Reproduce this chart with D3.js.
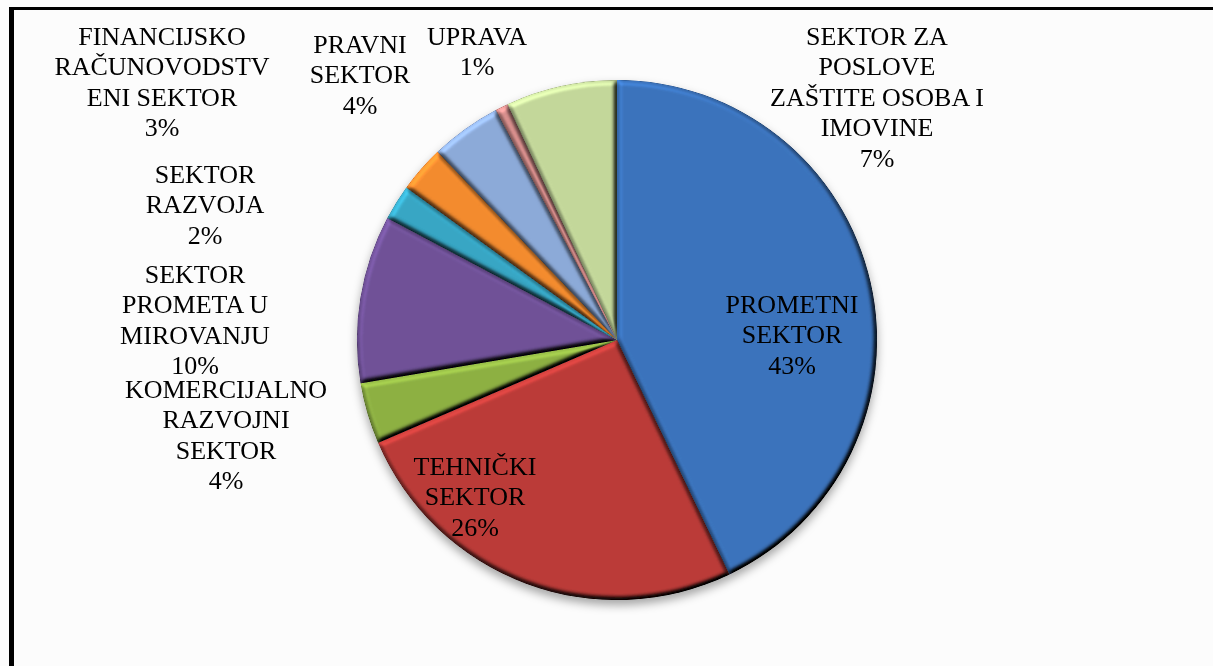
<!DOCTYPE html>
<html>
<head>
<meta charset="utf-8">
<title>Sektori</title>
<script src="https://cdn.jsdelivr.net/npm/d3@7/dist/d3.min.js"></script>
<style>
  html, body { margin: 0; padding: 0; background: #fcfcfc; }
  svg { display: block; }
  .lbl { font-family: "Liberation Serif", "Times New Roman", serif; font-size: 26px; fill: #000; }
</style>
</head>
<body>
<div id="chart"></div>
<script>
// sectors, clockwise from 12 o'clock
var sectors = ["PROMETNI SEKTOR", "TEHNIČKI SEKTOR", "KOMERCIJALNO RAZVOJNI SEKTOR",
  "SEKTOR PROMETA U MIROVANJU", "SEKTOR RAZVOJA", "FINANCIJSKO RAČUNOVODSTVENI SEKTOR",
  "PRAVNI SEKTOR", "UPRAVA", "SEKTOR ZA POSLOVE ZAŠTITE OSOBA I IMOVINE"];
var shares = [42.8, 25.6, 3.8, 10.4, 2.2, 2.9, 4.4, 0.8, 6.9];
// wrapped the way the label boxes wrap them
var labelLines = [
  ["PROMETNI", "SEKTOR"],
  ["TEHNIČKI", "SEKTOR"],
  ["KOMERCIJALNO", "RAZVOJNI", "SEKTOR"],
  ["SEKTOR", "PROMETA U", "MIROVANJU"],
  ["SEKTOR", "RAZVOJA"],
  ["FINANCIJSKO", "RAČUNOVODSTV", "ENI SEKTOR"],
  ["PRAVNI", "SEKTOR"],
  ["UPRAVA"],
  ["SEKTOR ZA", "POSLOVE", "ZAŠTITE OSOBA I", "IMOVINE"]
];
var colors = ["#3b73bc", "#bb3b38", "#8db043", "#6f5197", "#37a6c4", "#f38b2f", "#8caad8", "#d88f8d", "#c3d79a"];

// label block anchors (centre x, first baseline)
var labelAt = [[792, 313], [475, 475], [226, 398], [195, 283], [205, 183], [162, 45], [360, 53], [477, 45], [877, 45]];

var W = 1213, H = 666, cx = 617, cy = 340, R = 260, lineH = 30.4;

var svg = d3.select("#chart").append("svg").attr("width", W).attr("height", H);

var defs = svg.append("defs");
var bevel = defs.append("filter").attr("id", "bevel")
  .attr("x", "-10%").attr("y", "-10%").attr("width", "120%").attr("height", "120%")
  .attr("color-interpolation-filters", "sRGB");
bevel.append("feGaussianBlur").attr("in", "SourceAlpha").attr("stdDeviation", 2.5).attr("result", "b");
bevel.append("feDiffuseLighting").attr("in", "b").attr("surfaceScale", 5).attr("diffuseConstant", 1)
  .attr("lighting-color", "#fff").attr("result", "d")
  .append("feDistantLight").attr("azimuth", 235).attr("elevation", 55);
bevel.append("feComposite").attr("in", "SourceGraphic").attr("in2", "d")
  .attr("operator", "arithmetic").attr("k1", 1.22).attr("k2", 0).attr("k3", 0).attr("k4", 0);

var shadow = defs.append("filter").attr("id", "shadow")
  .attr("x", "-10%").attr("y", "-10%").attr("width", "120%").attr("height", "125%");
shadow.append("feDropShadow").attr("dx", 0).attr("dy", 5).attr("stdDeviation", 5)
  .attr("flood-color", "#000").attr("flood-opacity", 0.35);

// frame
svg.append("line").attr("x1", 9).attr("x2", W).attr("y1", 8.5).attr("y2", 8.5)
  .attr("stroke", "#000").attr("stroke-width", 3);
svg.append("line").attr("x1", 11.5).attr("x2", 11.5).attr("y1", 7).attr("y2", H)
  .attr("stroke", "#000").attr("stroke-width", 5);

var pie = d3.pie().sort(null).value(function(d) { return d; });
var arcs = pie(shares);
var total = d3.sum(shares);
var arc = d3.arc().innerRadius(0).outerRadius(R);
var color = d3.scaleOrdinal().domain(sectors).range(colors);

var g = svg.append("g").attr("transform", "translate(" + cx + "," + cy + ")")
  .attr("filter", "url(#shadow)");
g.selectAll("path").data(arcs).enter().append("path")
  .attr("d", arc)
  .attr("fill", function(d, i) { return color(sectors[i]); })
  .attr("filter", "url(#bevel)");

var labels = svg.selectAll("text.lbl").data(arcs).enter().append("text")
  .attr("class", "lbl")
  .attr("text-anchor", "middle");
labels.each(function(d, i) {
  var t = d3.select(this);
  var lines = labelLines[i].concat([Math.round(d.value / total * 100) + "%"]);
  lines.forEach(function(s, j) {
    t.append("tspan").attr("x", labelAt[i][0]).attr("y", labelAt[i][1] + j * lineH).text(s);
  });
});
</script>
</body>
</html>
